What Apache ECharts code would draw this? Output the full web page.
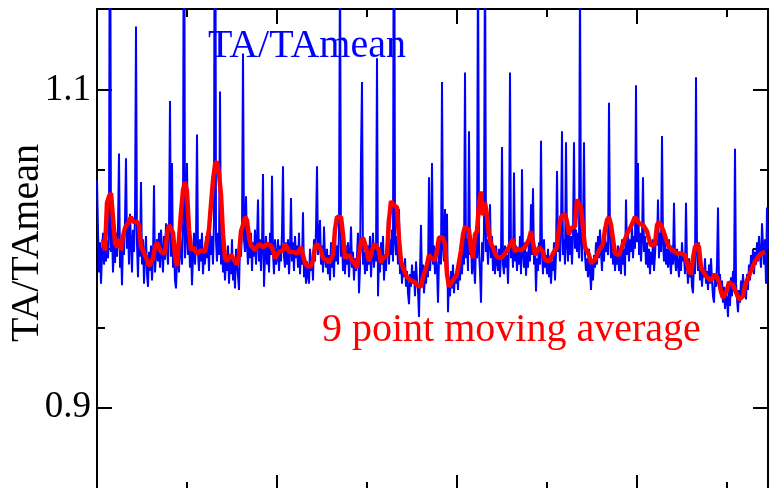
<!DOCTYPE html>
<html>
<head>
<meta charset="utf-8">
<script src="https://cdn.jsdelivr.net/npm/echarts@6/dist/echarts.min.js"></script>
<style>
  html, body { margin: 0; padding: 0; background: #fff; }
  #chart { width: 771px; height: 488px; }
</style>
</head>
<body>
<div id="chart"></div>
<script>
// TA/TAmean per sample (one value per sample index)
const taRatio = [
  1.043, 1.012, 0.985, 1.004, 0.978, 0.996, 1.010, 0.990, 1.003, 0.992,
  1.005, 0.994, 1.008, 1.29, 0.998, 1.012, 0.985, 1.003, 0.991, 1.010,
  0.995, 1.014, 1.060, 0.988, 1.002, 0.977, 1.006, 0.996, 1.018, 1.057,
  1.000, 1.015, 0.990, 1.022, 1.004, 0.985, 1.012, 0.998, 1.020, 1.140,
  1.003, 0.982, 1.010, 0.995, 1.042, 0.990, 1.006, 0.978, 0.996, 1.008,
  0.984, 0.976, 0.998, 0.986, 1.002, 0.980, 0.994, 1.040, 0.985, 0.996,
  1.006, 0.992, 1.010, 0.988, 1.012, 0.998, 0.985, 1.008, 0.993, 1.016,
  1.002, 0.990, 1.010, 1.093, 0.995, 1.054, 0.988, 1.002, 0.980, 0.975,
  0.992, 1.004, 0.985, 1.010, 0.998, 0.990, 1.012, 1.30, 0.994, 1.006,
  1.054, 0.996, 1.008, 0.988, 1.002, 0.977, 0.995, 1.010, 0.990, 1.004,
  1.072, 0.998, 0.986, 1.006, 0.992, 1.010, 0.984, 1.000, 0.990, 1.008,
  0.994, 1.004, 0.986, 1.012, 0.996, 1.008, 0.990, 1.018, 1.36, 1.005,
  0.992, 1.010, 0.996, 1.099, 0.990, 1.006, 0.985, 0.998, 0.980, 0.994,
  0.986, 1.002, 0.978, 0.996, 0.984, 1.006, 0.980, 0.992, 0.975, 1.000,
  0.990, 0.983, 0.974, 1.004, 0.995, 1.012, 1.123, 1.006, 0.998, 1.033,
  1.002, 0.990, 1.008, 0.994, 1.010, 0.986, 1.004, 0.995, 1.012, 0.990,
  1.004, 1.031, 0.992, 1.006, 0.986, 1.002, 1.047, 0.976, 0.996, 1.008,
  0.990, 1.004, 0.985, 1.010, 0.996, 1.046, 0.998, 0.984, 1.006, 0.990,
  0.994, 1.006, 0.986, 1.002, 0.992, 1.010, 1.052, 0.995, 0.988, 1.004,
  0.990, 1.006, 0.984, 0.998, 1.032, 0.992, 1.004, 0.986, 1.008, 0.994,
  1.002, 0.988, 1.010, 0.984, 0.998, 0.990, 1.023, 0.982, 0.994, 0.978,
  0.992, 0.983, 0.978, 1.000, 0.986, 0.994, 0.980, 1.006, 0.992, 1.012,
  1.052, 0.996, 1.006, 1.018, 0.990, 1.002, 0.985, 1.014, 0.994, 0.988,
  1.000, 0.984, 0.996, 0.980, 1.004, 0.988, 0.995, 0.982, 1.008, 0.992,
  1.002, 0.990, 1.010, 1.19, 0.995, 1.006, 0.986, 0.998, 0.984, 1.002,
  0.990, 1.004, 0.982, 0.996, 1.014, 0.988, 0.998, 0.980, 0.994, 0.986,
  0.996, 1.010, 0.972, 0.988, 1.058, 1.105, 0.990, 0.998, 0.984, 1.004,
  0.986, 1.002, 0.990, 1.008, 0.982, 0.996, 1.010, 0.988, 1.000, 0.992,
  1.120, 0.970, 0.996, 0.985, 1.004, 0.990, 1.008, 0.980, 0.994, 0.986,
  1.002, 1.020, 0.990, 1.006, 0.996, 1.012, 0.992, 1.32, 1.004, 0.996,
  1.008, 0.990, 1.025, 0.984, 0.996, 0.978, 0.990, 0.982, 0.994, 0.976,
  0.986, 0.972, 0.965, 0.984, 0.976, 0.990, 0.978, 0.986, 0.970, 0.992,
  0.980, 0.974, 0.957, 0.986, 1.015, 0.978, 0.990, 0.972, 0.984, 0.978,
  0.992, 0.982, 1.045, 0.986, 0.998, 1.054, 0.990, 1.002, 0.984, 0.996,
  0.988, 0.966, 0.994, 1.006, 0.990, 1.105, 1.000, 0.992, 1.025, 0.984,
  1.022, 0.960, 0.982, 0.970, 0.986, 0.975, 0.990, 0.972, 0.984, 0.978,
  0.988, 0.974, 0.992, 0.980, 0.996, 0.984, 1.002, 0.990, 1.111, 0.994,
  1.006, 0.986, 1.074, 0.996, 1.008, 0.984, 1.000, 0.990, 0.978, 1.004,
  0.994, 1.19, 0.998, 0.986, 0.966, 1.004, 0.992, 1.010, 1.20, 0.998,
  1.006, 0.990, 1.002, 1.028, 0.994, 1.008, 0.986, 0.998, 0.984, 1.002,
  0.992, 0.986, 1.000, 0.982, 0.996, 1.064, 0.990, 0.984, 1.002, 0.988,
  0.996, 0.978, 1.004, 1.111, 0.994, 1.006, 0.988, 1.048, 0.992, 1.002,
  0.986, 1.000, 0.990, 1.008, 0.984, 1.050, 0.996, 0.988, 1.004, 0.983,
  0.998, 0.988, 1.006, 0.992, 1.028, 0.996, 1.038, 0.990, 1.002, 0.973,
  0.994, 0.986, 1.004, 0.990, 1.068, 0.998, 0.984, 1.006, 0.988, 0.996,
  0.984, 1.000, 0.982, 0.994, 0.978, 0.992, 0.986, 1.004, 0.980, 0.996,
  1.049, 0.998, 1.008, 0.992, 1.012, 1.074, 0.996, 1.006, 0.990, 1.067,
  1.002, 0.992, 1.014, 0.996, 1.008, 0.990, 1.010, 1.067, 1.000, 1.012,
  0.998, 1.010, 0.994, 1.17, 1.004, 0.992, 1.012, 1.067, 0.996, 0.986,
  0.994, 0.982, 1.000, 0.986, 0.974, 0.992, 0.980, 0.996, 0.988, 1.004,
  0.990, 1.008, 0.994, 1.012, 0.998, 0.986, 1.006, 0.992, 1.010, 0.998,
  1.004, 0.996, 1.092, 1.008, 0.994, 1.012, 0.990, 1.004, 0.986, 0.998,
  0.990, 1.002, 0.986, 0.998, 0.984, 1.006, 0.990, 1.000, 0.983, 1.031,
  0.996, 1.010, 0.992, 1.006, 0.998, 1.014, 0.994, 1.008, 1.000, 1.103,
  1.004, 1.054, 0.996, 1.010, 0.992, 1.006, 1.045, 0.998, 1.008, 0.990,
  1.004, 0.988, 1.000, 0.984, 0.998, 0.990, 1.006, 0.986, 0.996, 1.010,
  1.002, 1.031, 0.994, 1.010, 0.998, 1.071, 1.004, 0.992, 1.008, 0.990,
  1.000, 0.988, 1.006, 0.992, 0.984, 1.002, 0.990, 1.029, 0.994, 0.986,
  1.000, 0.990, 0.982, 0.998, 0.986, 1.004, 0.992, 0.996, 0.984, 1.029,
  0.990, 0.978, 0.994, 0.982, 0.988, 0.976, 0.972, 0.992, 0.984, 1.108,
  0.998, 0.986, 1.004, 0.980, 0.992, 0.976, 0.988, 0.982, 0.994, 0.978,
  0.986, 0.974, 0.990, 0.978, 0.994, 0.980, 0.970, 0.966, 0.984, 0.976,
  0.990, 1.026, 0.978, 0.984, 0.970, 0.980, 0.966, 0.976, 0.962, 0.972,
  0.968, 0.957, 0.976, 0.964, 0.982, 0.970, 0.986, 0.974, 1.063, 0.978,
  0.968, 0.960, 0.974, 0.966, 0.980, 0.970, 0.984, 0.972, 0.978, 0.968,
  0.984, 0.974, 0.990, 0.980, 0.996, 0.986, 1.000, 0.984, 0.998, 0.990,
  1.004, 0.992, 1.008, 0.996, 0.988, 1.016, 1.002, 0.990, 1.006, 0.978,
  1.026, 1.000
];

// 9 point moving average, listed every other sample
const movingAvgStart = 6;
const movingAvgStep = 2;
const movingAvg = [
  1.006, 0.999, 1.029, 1.033, 1.035, 1.034, 1.004, 1.001, 1.006, 0.999,
  1.008, 1.013, 1.014, 1.017, 1.020, 1.017, 1.018, 1.017, 1.015, 1.001,
  0.999, 0.996, 0.993, 0.989, 0.989, 0.994, 1.001, 1.004, 1.001, 0.998,
  0.997, 0.997, 1.009, 1.015, 1.016, 1.010, 0.996, 0.989, 1.006, 1.023,
  1.037, 1.042, 1.036, 1.012, 0.999, 1.001, 0.999, 0.997, 0.998, 0.999,
  0.999, 0.998, 0.997, 1.012, 1.028, 1.043, 1.053, 1.055, 1.047, 1.034,
  1.009, 0.994, 0.992, 0.994, 0.996, 0.994, 0.993, 0.990, 0.996, 1.011,
  1.015, 1.020, 1.018, 1.007, 1.002, 1.001, 0.999, 1.001, 1.003, 1.003,
  1.001, 1.001, 1.003, 1.004, 1.002, 0.999, 0.994, 0.994, 0.998, 0.998,
  0.999, 1.003, 1.001, 0.998, 0.998, 0.998, 0.998, 0.997, 0.999, 1.001,
  0.996, 0.991, 0.989, 0.988, 0.989, 0.993, 1.001, 1.003, 1.004, 0.999,
  0.994, 0.994, 0.993, 0.991, 0.991, 0.996, 1.012, 1.020, 1.020, 1.020,
  1.009, 0.994, 0.994, 0.996, 0.994, 0.992, 0.991, 0.988, 0.996, 1.004,
  1.007, 1.003, 0.998, 0.992, 0.996, 1.001, 1.003, 1.002, 0.999, 0.991,
  0.994, 0.993, 0.996, 1.018, 1.030, 1.028, 1.027, 1.026, 1.006, 0.992,
  0.988, 0.985, 0.982, 0.981, 0.980, 0.979, 0.979, 0.977, 0.977, 0.976,
  0.982, 0.986, 0.990, 0.996, 0.994, 0.993, 0.993, 0.999, 1.007, 1.008,
  1.007, 1.003, 0.984, 0.976, 0.978, 0.980, 0.982, 0.984, 0.985, 0.999,
  1.009, 1.014, 1.015, 1.012, 0.999, 0.994, 1.009, 1.011, 1.028, 1.036,
  1.021, 1.029, 1.021, 1.009, 1.003, 1.001, 0.997, 0.995, 0.995, 0.994,
  0.993, 0.997, 0.999, 1.001, 1.004, 1.006, 0.998, 1.000, 1.001, 0.999,
  1.000, 1.001, 1.002, 1.006, 1.011, 1.004, 0.996, 0.998, 1.001, 1.001,
  0.998, 0.993, 0.992, 0.992, 0.993, 0.997, 0.999, 1.001, 1.013, 1.020,
  1.020, 1.022, 1.017, 1.009, 1.013, 1.014, 1.014, 1.031, 1.028, 1.026,
  1.013, 1.001, 1.000, 0.996, 0.991, 0.991, 0.993, 0.996, 0.999, 1.001,
  1.003, 1.012, 1.018, 1.020, 1.015, 1.006, 0.997, 0.996, 0.996, 0.996,
  1.003, 1.006, 1.007, 1.012, 1.014, 1.015, 1.020, 1.020, 1.016, 1.016,
  1.015, 1.013, 1.011, 1.006, 1.002, 1.001, 1.003, 1.015, 1.017, 1.016,
  1.012, 1.008, 1.004, 1.001, 1.001, 0.999, 0.998, 0.997, 0.996, 0.997,
  0.997, 0.996, 0.991, 0.986, 0.984, 0.994, 1.001, 1.003, 1.001, 0.988,
  0.986, 0.984, 0.982, 0.981, 0.980, 0.982, 0.984, 0.982, 0.979, 0.973,
  0.969, 0.970, 0.974, 0.979, 0.978, 0.977, 0.974, 0.971, 0.968, 0.967,
  0.970, 0.977, 0.980, 0.983, 0.986, 0.989, 0.992, 0.994, 0.995, 0.997,
  0.997, 0.998
];

// axis ticks and labels
const xMax = 671;
const xMajorTicks = [180, 360, 540];
const xMinorTicks = [90, 270, 450, 630];
const yMin = 0.848;
const yMax = 1.151;
const yMajorTicks = [0.9, 1.0, 1.1];
const yMinorTicks = [0.95, 1.05];
const yTickLabels = [0.9, 1.1];

const serif = "'Liberation Serif', 'Times New Roman', serif";
const font40 = "40px 'Liberation Serif', 'Times New Roman', serif";
const black = '#000';

const ratioPoints = taRatio.map((v, i) => [i, v]);
const avgPoints = movingAvg.map((v, k) => [movingAvgStart + k * movingAvgStep, v]);

function xAxisDef(position, ticks, len, showLine) {
  return {
    type: 'value', position, min: 0, max: xMax,
    axisLine: { show: showLine, onZero: false, lineStyle: { color: black, width: 2 } },
    axisTick: { show: true, inside: true, length: len, customValues: ticks,
                lineStyle: { color: black, width: 2 } },
    axisLabel: { show: false },
    splitLine: { show: false }
  };
}

function yAxisDef(position, ticks, len, showLine, labels) {
  const axis = {
    type: 'value', position, min: yMin, max: yMax,
    axisLine: { show: showLine, onZero: false, lineStyle: { color: black, width: 2 } },
    axisTick: { show: true, inside: true, length: len, customValues: ticks,
                lineStyle: { color: black, width: 2 } },
    axisLabel: { show: false },
    splitLine: { show: false }
  };
  if (labels) {
    axis.axisLabel = {
      show: true, customValues: labels, margin: 6,
      fontFamily: serif, fontSize: 37, color: black,
      formatter: v => v.toFixed(1)
    };
  }
  return axis;
}

const chart = echarts.init(document.getElementById('chart'), null, { renderer: 'canvas' });
chart.setOption({
  animation: false,
  backgroundColor: '#fff',
  grid: { left: 97, top: 9, right: 3, bottom: -2, containLabel: false, outerBoundsMode: 'none' },
  xAxis: [
    xAxisDef('bottom', xMajorTicks, 15, true),
    xAxisDef('bottom', xMinorTicks, 8, false),
    xAxisDef('top', xMajorTicks, 15, true),
    xAxisDef('top', xMinorTicks, 8, false)
  ],
  yAxis: [
    yAxisDef('left', yMajorTicks, 15, true, yTickLabels),
    yAxisDef('left', yMinorTicks, 8, false, null),
    yAxisDef('right', yMajorTicks, 15, true, null),
    yAxisDef('right', yMinorTicks, 8, false, null)
  ],
  series: [
    {
      name: 'TA/TAmean', type: 'line', xAxisIndex: 0, yAxisIndex: 0,
      data: ratioPoints, showSymbol: false, symbol: 'none', clip: true,
      lineStyle: { color: '#0000ff', width: 2 }, z: 2
    },
    {
      name: '9 point moving average', type: 'line', xAxisIndex: 0, yAxisIndex: 0,
      data: avgPoints, showSymbol: false, symbol: 'none', clip: true,
      lineStyle: { color: '#ff0000', width: 4.5 }, z: 3
    }
  ],
  graphic: [
    // y-axis title, reading bottom to top
    { type: 'text', x: 27, y: 243, rotation: Math.PI / 2, z: 10,
      style: { text: 'TA/TAmean', fill: black, font: font40, align: 'center', verticalAlign: 'middle' } },
    { type: 'text', left: 208, top: 26, z: 10,
      style: { text: 'TA/TAmean', fill: '#0000ff', font: font40 } },
    { type: 'text', left: 322, top: 310, z: 10,
      style: { text: '9 point moving average', fill: '#ff0000', font: font40 } }
  ]
});
</script>
</body>
</html>
